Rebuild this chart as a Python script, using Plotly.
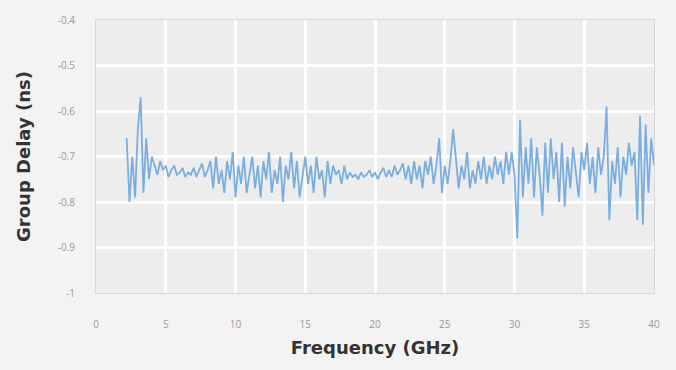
import numpy as np
import plotly.graph_objects as go

# Frequency sampling grid (GHz), 0.2 GHz step from 2.2 to 40
freq_ghz = [round(v, 1) for v in np.arange(2.2, 40.01, 0.2)]

# Group delay values (ns)
delay_2_4 = [-0.66, -0.80, -0.70, -0.79, -0.64, -0.57, -0.78, -0.66, -0.75, -0.70]
delay_4_8 = [-0.72, -0.74, -0.71, -0.73, -0.72, -0.745, -0.73, -0.72, -0.74, -0.735,
             -0.725, -0.745, -0.735, -0.74, -0.725, -0.745, -0.73, -0.715, -0.745, -0.73]
delay_8_18 = [-0.71, -0.77, -0.70, -0.76, -0.73, -0.78, -0.71, -0.75, -0.69, -0.79,
              -0.72, -0.76, -0.70, -0.78, -0.74, -0.70, -0.77, -0.72, -0.79, -0.71,
              -0.75, -0.69, -0.78, -0.73, -0.76, -0.70, -0.80, -0.72, -0.75, -0.69,
              -0.77, -0.71, -0.79, -0.74, -0.70, -0.76, -0.72, -0.78, -0.70, -0.75,
              -0.73, -0.79, -0.71, -0.76, -0.72, -0.74, -0.73, -0.76, -0.72, -0.75]
delay_18_22 = [-0.735, -0.745, -0.74, -0.75, -0.735, -0.745, -0.74, -0.73, -0.745, -0.735,
               -0.75, -0.735, -0.725, -0.745, -0.73, -0.745, -0.72, -0.74, -0.73, -0.715]
delay_22_30 = [-0.75, -0.72, -0.76, -0.71, -0.75, -0.72, -0.77, -0.71, -0.74, -0.70,
               -0.76, -0.72, -0.66, -0.78, -0.72, -0.76, -0.71, -0.64, -0.70, -0.77,
               -0.72, -0.75, -0.69, -0.77, -0.73, -0.76, -0.71, -0.75, -0.70, -0.76,
               -0.72, -0.75, -0.70, -0.74, -0.71, -0.76, -0.69, -0.74, -0.69, -0.74]
delay_30_40 = [-0.88, -0.62, -0.79, -0.68, -0.76, -0.66, -0.79, -0.68, -0.74, -0.83,
               -0.67, -0.78, -0.66, -0.75, -0.69, -0.80, -0.67, -0.81, -0.70, -0.77,
               -0.68, -0.74, -0.79, -0.69, -0.73, -0.67, -0.76, -0.70, -0.78, -0.68,
               -0.74, -0.70, -0.59, -0.84, -0.71, -0.76, -0.68, -0.79, -0.70, -0.74,
               -0.67, -0.72, -0.69, -0.84, -0.61, -0.85, -0.63, -0.78, -0.66, -0.72]
group_delay_ns = delay_2_4 + delay_4_8 + delay_8_18 + delay_18_22 + delay_22_30 + delay_30_40

x_ticks = [0, 5, 10, 15, 20, 25, 30, 35, 40]
y_ticks = [-0.4, -0.5, -0.6, -0.7, -0.8, -0.9, -1]
y_tick_labels = ["-0.4", "-0.5", "-0.6", "-0.7", "-0.8", "-0.9", "-1"]

fig = go.Figure()
fig.add_trace(go.Scatter(
    x=freq_ghz[:len(group_delay_ns)], y=group_delay_ns, mode="lines",
    line=dict(color="#7aaee0", width=1.8), showlegend=False,
))

title_font = dict(family="DejaVu Sans", size=18, color="#333333")
fig.update_layout(
    width=676, height=370,
    margin=dict(l=96, r=22, t=18, b=77),
    paper_bgcolor="#f3f3f3", plot_bgcolor="#ededed",
    font=dict(family="Open Sans", color="#999999", size=10),
)
fig.update_xaxes(
    range=[0, 40], tickvals=x_ticks, ticktext=[str(t) for t in x_ticks],
    showgrid=True, gridcolor="#ffffff", gridwidth=3,
    zeroline=False, showline=True, linecolor="#d8d8d8", mirror=True,
    ticks="outside", ticklen=22, tickcolor="rgba(0,0,0,0)",
    title=dict(text="<b>Frequency (GHz)</b>", font=title_font, standoff=11),
)
fig.update_yaxes(
    range=[-1, -0.4], tickvals=y_ticks, ticktext=y_tick_labels,
    showgrid=True, gridcolor="#ffffff", gridwidth=3,
    zeroline=False, showline=True, linecolor="#d8d8d8", mirror=True,
    ticks="outside", ticklen=18, tickcolor="rgba(0,0,0,0)",
    title=dict(text="<b>Group Delay (ns)</b>", font=title_font, standoff=22),
)

fig.write_html(
    "out.html",
    config={"displayModeBar": False},
    post_script="document.body.style.margin='0';document.body.style.background='#f3f3f3';",
)
